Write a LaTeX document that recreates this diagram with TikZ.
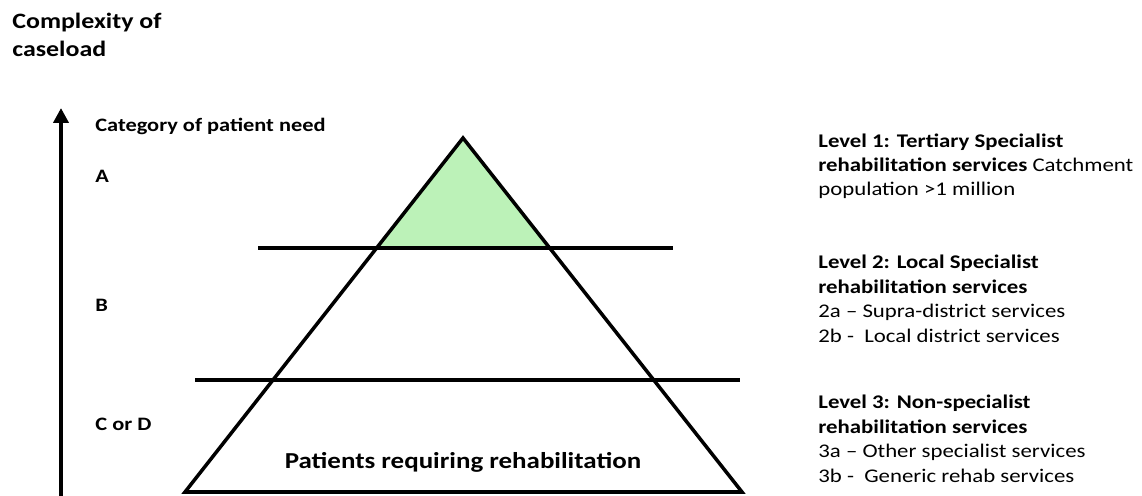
\documentclass[tikz,border=0pt]{standalone}
\usepackage{fontspec}
\setmainfont{Carlito}[FakeStretch=1.18]
\usetikzlibrary{arrows.meta}
\definecolor{toplevel}{RGB}{188,242,184}

\tikzset{
  layer/.style={line width=2pt},
  lbl/.style={inner sep=0pt, anchor=base west, font=\bfseries\fontsize{10.8}{12}\selectfont},
  levelbox/.style={inner sep=0pt, anchor=base west, align=left, font=\fontsize{11}{13.9}\selectfont}
}

\begin{document}
\begin{tikzpicture}[x=0.02cm, y=-0.02cm]
\useasboundingbox (0,0) rectangle (1142,496);

% Axis title and the upward arrow (multi-line nodes sit on their last baseline)
\node[levelbox, font=\bfseries\fontsize{12.5}{16.5}\selectfont] (title) at (12,57) {Complexity of\\caseload};
\coordinate (axisbot) at (61,496);
\coordinate (axistop) at (61,108);
\draw[line width=2.4pt, -{Triangle[length=3mm,width=3mm]}] (axisbot) -- (axistop);

% Categories
\node[lbl] (cat) at (95,132) {Category of patient need};
\node[lbl] (catA) at (95,183) {A};
\node[lbl] (catB) at (95,312) {B};
\node[lbl] (catCD) at (95,430) {C or D};

% The pyramid
\coordinate (apex) at (463,138);
\coordinate (baseL) at (185,492);
\coordinate (baseR) at (742,492);
\fill[toplevel] (apex) -- (377,248) -- (549,248) -- cycle;
\draw[layer] (apex) -- (baseL) -- (baseR) -- cycle;
\draw[layer] (258,248) -- (673,248);
\draw[layer] (195,380) -- (740,380);
\node[inner sep=0pt, anchor=base, font=\bfseries\fontsize{13}{15}\selectfont] (patients) at (463,468) {Patients requiring rehabilitation};

% Service levels
\node[levelbox] (lev1) at (818,196) {\textbf{Level 1: Tertiary Specialist}\\\textbf{rehabilitation services} Catchment\\population >1 million};
\node[levelbox] (lev2) at (818,342) {\textbf{Level 2: Local Specialist}\\\textbf{rehabilitation services}\\2a -- Supra-district services\\2b -\ \ Local district services};
\node[levelbox] (lev3) at (818,482) {\textbf{Level 3: Non-specialist}\\\textbf{rehabilitation services}\\3a -- Other specialist services\\3b -\ \ Generic rehab services};

\end{tikzpicture}
\end{document}
